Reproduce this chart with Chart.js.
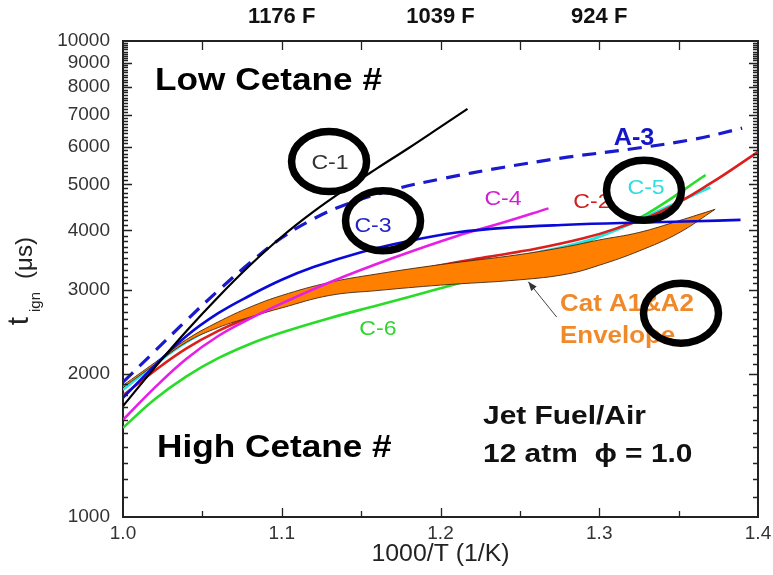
<!DOCTYPE html>
<html>
<head>
<meta charset="utf-8">
<script src="https://cdn.jsdelivr.net/npm/chart.js@4.4.1/dist/chart.umd.min.js"></script>
<style>body{margin:0;background:#fff}</style>
</head>
<body>
<canvas id="chart" width="773" height="575"></canvas>
<script>
const FONT = "'Liberation Sans', Arial, 'DejaVu Sans', sans-serif";

// ignition delay (us) vs 1000/T for each fuel
const c1X = [1.0, 1.02, 1.04, 1.06, 1.08, 1.10, 1.12, 1.14, 1.16, 1.18, 1.20, 1.217];
const c1Y = [1710, 2060, 2460, 2900, 3380, 3880, 4380, 4880, 5400, 5960, 6600, 7200];
const a3X = [1.0, 1.02, 1.04, 1.06, 1.08, 1.10, 1.12, 1.14, 1.17, 1.20, 1.24, 1.28, 1.32, 1.36, 1.39];
const a3Y = [1920, 2230, 2590, 2990, 3420, 3860, 4230, 4530, 4870, 5130, 5430, 5700, 5930, 6220, 6560];
const c3X = [1.0, 1.02, 1.04, 1.06, 1.08, 1.10, 1.12, 1.15, 1.18, 1.21, 1.24, 1.28, 1.32, 1.36, 1.389];
const c3Y = [1780, 2080, 2400, 2680, 2920, 3150, 3350, 3600, 3800, 3960, 4050, 4110, 4150, 4180, 4210];
const c4X = [1.0, 1.02, 1.04, 1.06, 1.08, 1.10, 1.13, 1.17, 1.21, 1.24, 1.268];
const c4Y = [1600, 1870, 2150, 2400, 2610, 2810, 3110, 3500, 3890, 4160, 4450];
const c2X = [1.0, 1.02, 1.04, 1.06, 1.08, 1.10, 1.13, 1.16, 1.20, 1.23, 1.26, 1.29, 1.31, 1.34, 1.37, 1.40];
const c2Y = [1800, 2030, 2260, 2460, 2630, 2780, 2980, 3160, 3380, 3520, 3660, 3850, 4030, 4400, 5020, 5850];
const c5X = [1.0, 1.02, 1.04, 1.06, 1.08, 1.10, 1.14, 1.18, 1.22, 1.26, 1.30, 1.34, 1.37];
const c5Y = [1850, 2090, 2330, 2530, 2690, 2830, 3040, 3230, 3400, 3590, 3880, 4440, 4930];
const c6X = [1.0, 1.02, 1.04, 1.06, 1.08, 1.10, 1.13, 1.16, 1.20, 1.24, 1.27, 1.30, 1.33, 1.367];
const c6Y = [1540, 1768, 1975, 2156, 2310, 2441, 2616, 2783, 3023, 3300, 3548, 3882, 4335, 5229];

// Cat A1 & A2 envelope, upper and lower bounds
const envX = [1.0, 1.02, 1.04, 1.06, 1.08, 1.10, 1.13, 1.16, 1.20, 1.25, 1.28, 1.30, 1.325, 1.35, 1.373];
const envHi = [1890, 2110, 2360, 2570, 2760, 2920, 3110, 3240, 3390, 3560, 3700, 3820, 3960, 4190, 4430];
const envLo = [1870, 2090, 2330, 2500, 2630, 2750, 2920, 2990, 3070, 3150, 3240, 3380, 3620, 3950, 4430];

const xTicks = [1.0, 1.1, 1.2, 1.3, 1.4];
const yTicks = [1000, 2000, 3000, 4000, 5000, 6000, 7000, 8000, 9000, 10000];
const topTicks = [1.1, 1.2, 1.3];
const topLabels = ['1176 F', '1039 F', '924 F'];

// curve names and where they sit (1000/T, us)
const tagText = ['C-1', 'C-3', 'C-4', 'C-2', 'C-5', 'C-6', 'A-3'];
const tagX = [1.1304, 1.1575, 1.2394, 1.2954, 1.3295, 1.1606, 1.3219];
const tagY = [5540, 4080, 4660, 4580, 4910, 2480, 6250];
const tagColor = ['#333', '#2424c8', '#d21ed2', '#d21e1e', '#30dede', '#2ed62e', '#1414c8'];

// circled spots
const ringX = [1.1298, 1.1638, 1.3282, 1.3515];
const ringY = [5580, 4190, 4860, 2680];

function pts(xs, ys) {
  return xs.map((x, i) => ({x: x, y: ys[i]}));
}

function curve(xs, ys, color, width, order, dash) {
  return {
    data: pts(xs, ys),
    borderColor: color,
    borderWidth: width,
    borderDash: dash || [],
    pointRadius: 0,
    fill: false,
    order: order,
    tension: 0.4
  };
}

function text(ctx, s, x, y, size, weight, color, align, sx) {
  ctx.save();
  ctx.translate(x, y);
  ctx.scale(sx, 1);
  ctx.font = weight + ' ' + size + 'px ' + FONT;
  ctx.fillStyle = color;
  ctx.textAlign = align;
  ctx.textBaseline = 'middle';
  ctx.fillText(s, 0, 0);
  ctx.restore();
}

const decor = {
  id: 'decor',
  afterDraw(chart) {
    const {ctx, chartArea: a, scales: {x, y}} = chart;
    const px = v => x.getPixelForValue(v);
    const py = v => y.getPixelForValue(v);
    ctx.save();

    // tick marks pointing into the plot
    ctx.strokeStyle = '#222';
    ctx.lineWidth = 1.3;
    ctx.beginPath();
    for (let v = 1100; v < 10000; v += 100) {
      const yy = Math.round(py(v)) + 0.5;
      const len = v % 1000 === 0 ? 9 : 5;
      ctx.moveTo(a.left, yy); ctx.lineTo(a.left + len, yy);
      ctx.moveTo(a.right, yy); ctx.lineTo(a.right - len, yy);
    }
    for (let k = 1; k < 8; k++) {
      const xx = Math.round(px(1 + k * 0.05)) + 0.5;
      ctx.moveTo(xx, a.bottom); ctx.lineTo(xx, a.bottom - (k % 2 ? 6 : 9));
      ctx.moveTo(xx, a.top); ctx.lineTo(xx, a.top + 9);
    }
    ctx.stroke();

    // axis titles
    text(ctx, '1000/T (1/K)', (a.left + a.right) / 2, 555, 23, 'normal', '#222', 'center', 1.08);
    const yt = [['t', 30, 28, 321], ['ign', 15, 40, 302], ['(\u03bcs)', 24, 32, 258]];
    yt.forEach(([s, size, bx, cy]) => {
      ctx.save();
      ctx.translate(bx, cy);
      ctx.rotate(-Math.PI / 2);
      ctx.font = size + 'px ' + FONT;
      ctx.fillStyle = '#222';
      ctx.textAlign = 'center';
      ctx.textBaseline = 'alphabetic';
      ctx.fillText(s, 0, 0);
      ctx.restore();
    });

    // notes
    text(ctx, 'Low Cetane #', px(1.0202), py(8220), 32, 'bold', '#000', 'left', 1.1);
    text(ctx, 'High Cetane #', px(1.0214), py(1393), 32, 'bold', '#000', 'left', 1.1);
    text(ctx, 'Jet Fuel/Air', px(1.2268), py(1622), 26, 'bold', '#111', 'left', 1.15);
    text(ctx, '12 atm  \u03d5 = 1.0', px(1.2268), py(1350), 26, 'bold', '#111', 'left', 1.15);
    text(ctx, 'Cat A1&A2', px(1.2753), py(2800), 24, 'bold', '#f0892a', 'left', 1.08);
    text(ctx, 'Envelope', px(1.2753), py(2400), 24, 'bold', '#f0892a', 'left', 1.08);

    // arrow to the envelope
    const tx = px(1.2553), ty = py(3120), sx0 = px(1.2732), sy0 = py(2630);
    const ang = Math.atan2(ty - sy0, tx - sx0);
    ctx.strokeStyle = '#444';
    ctx.fillStyle = '#333';
    ctx.lineWidth = 1;
    ctx.beginPath();
    ctx.moveTo(sx0, sy0); ctx.lineTo(tx, ty);
    ctx.stroke();
    ctx.beginPath();
    ctx.moveTo(tx, ty);
    ctx.lineTo(tx - 9 * Math.cos(ang) + 3.5 * Math.sin(ang), ty - 9 * Math.sin(ang) - 3.5 * Math.cos(ang));
    ctx.lineTo(tx - 9 * Math.cos(ang) - 3.5 * Math.sin(ang), ty - 9 * Math.sin(ang) + 3.5 * Math.cos(ang));
    ctx.closePath();
    ctx.fill();

    // curve names
    tagText.forEach((s, i) => {
      const bold = s === 'A-3';
      text(ctx, s, px(tagX[i]), py(tagY[i]), bold ? 23 : 21, bold ? 'bold' : 'normal', tagColor[i], 'center', 1.1);
    });

    // circles
    ctx.strokeStyle = '#000';
    ctx.lineWidth = 7.5;
    ringX.forEach((v, i) => {
      ctx.beginPath();
      ctx.ellipse(px(v), py(ringY[i]), 37.5, 30, 0, 0, Math.PI * 2);
      ctx.stroke();
    });
    ctx.restore();
  }
};

const envColor = '#ff8000';
const envEdge = 'rgba(70,40,15,0.9)';

new Chart(document.getElementById('chart'), {
  type: 'line',
  data: {
    datasets: [
      curve(c1X, c1Y, '#000000', 2.2, 1),
      curve(a3X, a3Y, '#1a1acd', 3.2, 1, [14, 9]),
      curve(c3X, c3Y, '#0a0ad8', 2.6, 1),
      curve(c4X, c4Y, '#e61ee6', 2.6, 1),
      {
        data: pts(envX, envHi), borderColor: envEdge, borderWidth: 1,
        pointRadius: 0, fill: false, order: 2, tension: 0.4
      },
      {
        data: pts(envX, envLo), borderColor: envEdge, borderWidth: 1,
        backgroundColor: envColor, pointRadius: 0, fill: '-1', order: 2, tension: 0.4
      },
      curve(c2X, c2Y, '#dc1e1e', 2.6, 3),
      curve(c5X, c5Y, '#22e6e6', 2.6, 3),
      curve(c6X, c6Y, '#28dc28', 2.6, 3)
    ]
  },
  options: {
    responsive: false,
    animation: false,
    events: [],
    layout: {padding: 0},
    plugins: {legend: {display: false}, tooltip: {enabled: false}},
    scales: {
      x: {
        type: 'linear', position: 'bottom', min: 1.0, max: 1.4,
        afterBuildTicks: s => { s.ticks = xTicks.map(v => ({value: v})); },
        afterFit: s => { s.height = 58; s.paddingLeft = 0; s.paddingRight = 0; },
        ticks: {
          callback: v => v.toFixed(1), autoSkip: false, maxRotation: 0,
          padding: 5, color: '#333', font: {family: FONT, size: 19}
        },
        grid: {drawOnChartArea: false, drawTicks: false},
        border: {color: '#222', width: 2}
      },
      x2: {
        type: 'linear', position: 'top', min: 1.0, max: 1.4,
        afterBuildTicks: s => { s.ticks = topTicks.map(v => ({value: v})); },
        afterFit: s => { s.height = 41; s.paddingLeft = 0; s.paddingRight = 0; },
        ticks: {
          callback: (v, i) => topLabels[i], autoSkip: false, maxRotation: 0,
          padding: 11, color: '#111', font: {family: FONT, size: 22, weight: 'bold'}
        },
        grid: {drawOnChartArea: false, drawTicks: false},
        border: {color: '#222', width: 2}
      },
      y: {
        type: 'logarithmic', position: 'left', min: 1000, max: 10000,
        afterBuildTicks: s => { s.ticks = yTicks.map(v => ({value: v})); },
        afterFit: s => { s.width = 123; },
        ticks: {
          callback: v => String(v), autoSkip: false,
          padding: 13, color: '#333', font: {family: FONT, size: 19}
        },
        grid: {drawOnChartArea: false, drawTicks: false},
        border: {color: '#222', width: 2}
      },
      y2: {
        type: 'logarithmic', position: 'right', min: 1000, max: 10000,
        afterFit: s => { s.width = 15; },
        ticks: {display: false},
        grid: {drawOnChartArea: false, drawTicks: false},
        border: {color: '#222', width: 2}
      }
    }
  },
  plugins: [decor]
});
</script>
</body>
</html>
